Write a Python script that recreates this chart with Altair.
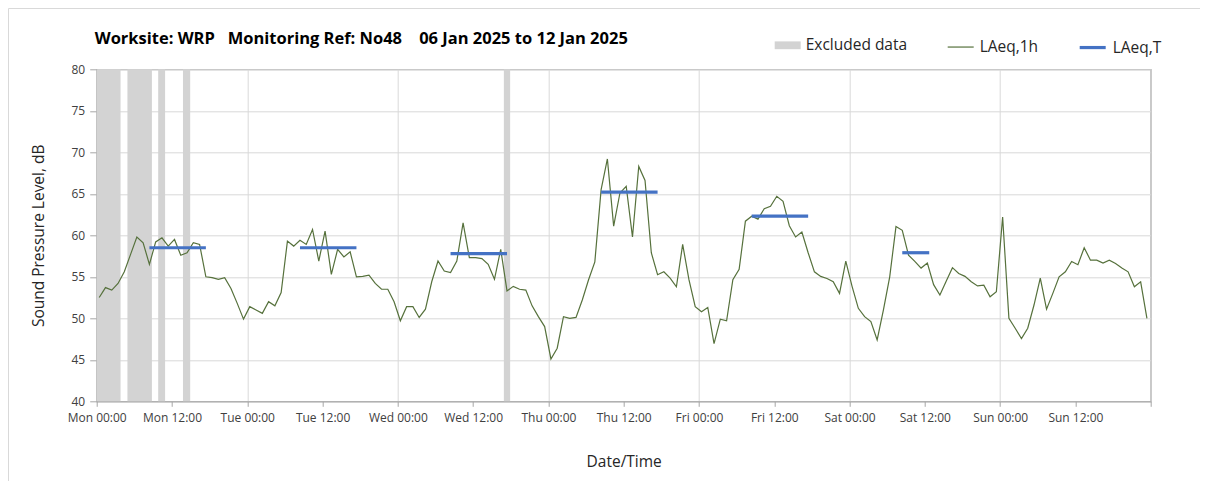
import altair as alt
import pandas as pd

FONT = "Open Sans"

# ---- data ----
tick_labels = ["Mon 00:00", "Mon 12:00", "Tue 00:00", "Tue 12:00", "Wed 00:00", "Wed 12:00",
               "Thu 00:00", "Thu 12:00", "Fri 00:00", "Fri 12:00", "Sat 00:00", "Sat 12:00",
               "Sun 00:00", "Sun 12:00"]
x_ticks = [0, 12, 24, 36, 48, 60, 72, 84, 96, 108, 120, 132, 144, 156, 168]
y_ticks = [40, 45, 50, 55, 60, 65, 70, 75, 80]

hour_index = list(range(168))
reading_offset = 0.4  # readings are plotted a little after the hour

laeq_1h = [
    52.5, 53.7, 53.4, 54.2, 55.6, 57.7, 59.8, 59.1, 56.5, 59.2, 59.7, 58.7,
    59.5, 57.6, 57.9, 59.1, 58.9, 55.0, 54.9, 54.7, 54.9, 53.6, 51.8, 49.9,
    51.4, 51.0, 50.6, 52.0, 51.5, 53.1, 59.3, 58.7, 59.4, 58.9, 60.7, 56.9,
    60.5, 55.3, 58.3, 57.4, 58.0, 55.0, 55.05, 55.2, 54.2, 53.5, 53.5, 52.0,
    49.7, 51.4, 51.4, 50.1, 51.1, 54.4, 56.9, 55.7, 55.5, 56.9, 61.5, 57.3,
    57.3, 57.2, 56.5, 54.7, 58.3, 53.3, 53.85, 53.5, 53.4, 51.5, 50.2, 49.0,
    45.1, 46.4, 50.2, 50.0, 50.1, 52.2, 54.65, 56.8, 65.5, 69.2, 61.1, 65.1,
    65.9, 59.8, 68.3, 66.6, 57.9, 55.25, 55.6, 54.85, 53.8, 58.9, 54.65, 51.4,
    50.8, 51.3, 46.95, 49.9, 49.7, 54.65, 55.9, 61.7, 62.3, 61.95, 63.2, 63.5,
    64.7, 64.1, 61.15, 59.8, 60.4, 57.9, 55.6, 55.05, 54.8, 54.4, 53.0, 56.9,
    53.85, 51.2, 50.2, 49.6, 47.4, 51.0, 55.0, 61.05, 60.6, 57.6, 56.85, 56.05,
    56.65, 54.05, 52.8, 54.45, 56.1, 55.4, 55.05, 54.4, 53.9, 54.0, 52.6, 53.2,
    62.2, 50.0, 48.8, 47.55, 48.8, 51.6, 54.85, 51.1, 53.0, 55.0, 55.6, 56.85,
    56.45, 58.5, 57.0, 57.0, 56.65, 57.0, 56.6, 56.05, 55.6, 53.8, 54.4, 50.0,
]

excluded_start = [0.0, 4.9, 9.8, 13.75, 64.9]
excluded_end = [3.8, 8.8, 10.9, 14.9, 65.9]

laeqT_start = [8.4, 32.4, 56.4, 80.4, 104.4, 128.4]
laeqT_end = [17.4, 41.4, 65.4, 89.4, 113.4, 132.7]
laeqT_value = [58.5, 58.5, 57.8, 65.2, 62.3, 57.9]

excluded_name = "Excluded data"
line_names = ["LAeq,1h", "LAeq,T"]
excluded_color = "#d3d3d3"
line_colors = ["#56713c", "#4472c4"]
line_widths = [1.2, 3.2]

title_text = ("Worksite: WRP\u00a0\u00a0\u00a0Monitoring Ref: No48\u00a0\u00a0\u00a0\u00a0"
              "06 Jan 2025 to 12 Jan 2025")

# ---- tables ----
df_line = pd.DataFrame({"hour": [h + reading_offset for h in hour_index],
                        "level": laeq_1h, "series": line_names[0]})
df_excl = pd.DataFrame({"start": excluded_start, "end": excluded_end, "series": excluded_name})
df_T = pd.DataFrame({"start": laeqT_start, "end": laeqT_end, "level": laeqT_value,
                     "series": line_names[1]})

labels_js = "[" + ",".join("'" + t + "'" for t in tick_labels) + "]"

x_scale = alt.Scale(domain=[0, 168], nice=False, zero=False)
y_scale = alt.Scale(domain=[40, 80], nice=False, zero=False)

x_axis = alt.Axis(
    values=x_ticks, labelExpr=labels_js + "[datum.value / 12] || ''",
    labelOverlap=False, labelBound=False, labelFlush=False,
    title="Date/Time", titleFont=FONT, titleFontSize=15.5, titleFontWeight="normal",
    titleColor="#262626", titlePadding=31,
    labelFont=FONT, labelFontSize=12, labelColor="#404040", labelPadding=6,
    tickSize=5, tickColor="#a6a6a6", domainColor="#a6a6a6",
    grid=True, gridColor="#d9d9d9",
    gridOpacity={"condition": {"test": "datum.value % 24 === 0 && datum.value > 0 && datum.value < 168",
                               "value": 1}, "value": 0},
)
y_axis = alt.Axis(
    values=y_ticks, title="Sound Pressure Level, dB", titleFont=FONT, titleFontSize=15.5,
    titleFontWeight="normal", titleColor="#262626", titlePadding=24,
    labelFont=FONT, labelFontSize=12, labelColor="#404040", labelPadding=5,
    labelOverlap=False,
    tickSize=7, tickColor="#a6a6a6", domainColor="#a6a6a6",
    grid=True, gridColor="#d9d9d9",
)

fill_scale = alt.Scale(domain=[excluded_name], range=[excluded_color])
stroke_scale = alt.Scale(domain=line_names, range=line_colors)
width_scale = alt.Scale(type="ordinal", domain=line_names, range=line_widths)

legend_common = dict(orient="none", direction="horizontal", title=None, labelFont=FONT,
                     labelFontSize=15.5, labelColor="#262626", labelOffset=5, padding=0)

bands = alt.Chart(df_excl).mark_rect(strokeWidth=0).encode(
    x=alt.X("start:Q", scale=x_scale, axis=x_axis),
    x2="end:Q",
    fill=alt.Fill("series:N", scale=fill_scale,
                  legend=alt.Legend(legendX=678, legendY=-37, symbolType="M-1,-0.3H1V0.3H-1Z",
                                    symbolSize=676, symbolStrokeWidth=0, symbolOpacity=1,
                                    **legend_common)),
)

line_legend = alt.Legend(legendX=850, legendY=-37, symbolType="stroke",
                         symbolSize=676, columnPadding=34, **legend_common)

line = alt.Chart(df_line).mark_line(interpolate="linear").encode(
    x=alt.X("hour:Q", scale=x_scale),
    y=alt.Y("level:Q", scale=y_scale, axis=y_axis),
    stroke=alt.Stroke("series:N", scale=stroke_scale, legend=line_legend),
    strokeWidth=alt.StrokeWidth("series:N", scale=width_scale, legend=line_legend),
)

rules = alt.Chart(df_T).mark_rule().encode(
    x=alt.X("start:Q", scale=x_scale),
    x2="end:Q",
    y=alt.Y("level:Q", scale=y_scale),
    stroke=alt.Stroke("series:N", scale=stroke_scale),
    strokeWidth=alt.StrokeWidth("series:N", scale=width_scale),
)

# light outer frame of the chart area (top and left edges only are visible)
frame_df = pd.DataFrame({"k": [0]})
frame_top = alt.Chart(frame_df).mark_rule(stroke="#d9d9d9", strokeWidth=1).encode(
    x=alt.value(-88.2), x2=alt.value(2000), y=alt.value(-60.8))
frame_left = alt.Chart(frame_df).mark_rule(stroke="#d9d9d9", strokeWidth=1).encode(
    x=alt.value(-88.2), y=alt.value(-60.8), y2=alt.value(2000))

chart = alt.layer(frame_top, frame_left, bands, line, rules).resolve_legend(
    stroke="shared", strokeWidth="shared"
).properties(
    width=1054, height=332,
    autosize=alt.AutoSizeParams(type="none"),
    padding={"left": 88.7, "top": 61.3, "right": 49.3, "bottom": 80},
    title=alt.TitleParams(text=title_text, anchor="start", font=FONT, fontSize=16.5,
                          fontWeight="bold", color="#000000", offset=-20, dy=33, dx=-2,
                          baseline="alphabetic", frame="group"),
).configure_view(stroke="#a6a6a6", strokeWidth=1.2)

chart.save("out.html", embed_options={"renderer": "svg", "actions": False})
